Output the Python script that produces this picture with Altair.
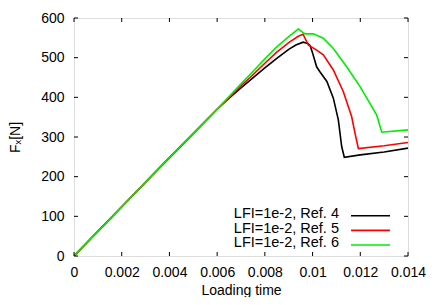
import altair as alt
import pandas as pd

series_names = ["LFI=1e-2, Ref. 4", "LFI=1e-2, Ref. 5", "LFI=1e-2, Ref. 6"]
colors = ["#000000", "#ff0000", "#00ee00"]

black_t = [0, 0.002, 0.004, 0.006, 0.0065, 0.007, 0.0075, 0.008, 0.0085, 0.009, 0.0093, 0.0096, 0.0098,
           0.0099, 0.01, 0.01017, 0.0103, 0.0106, 0.01087, 0.01108, 0.01122, 0.01133, 0.012, 0.013, 0.014]
black_f = [0, 124, 248, 370, 398, 424, 449, 474, 498, 521, 532, 539, 536,
           530, 512, 477, 465, 440, 398, 343, 276, 249, 255, 262, 272]

red_t = [0, 0.002, 0.004, 0.006, 0.0065, 0.007, 0.0075, 0.008, 0.0085, 0.009, 0.0094, 0.0096, 0.00982,
         0.01017, 0.01045, 0.01087, 0.01129, 0.01164, 0.01178, 0.01192, 0.013, 0.014]
red_f = [0, 124, 248, 370, 400, 429, 457, 486, 514, 538, 554, 559, 532,
         519, 507, 469, 414, 351, 309, 271, 278, 286]

green_t = [0, 0.002, 0.004, 0.006, 0.0065, 0.007, 0.0075, 0.008, 0.0085, 0.009, 0.0094, 0.00968, 0.01003,
           0.01045, 0.01087, 0.01143, 0.01199, 0.01269, 0.0129, 0.014]
green_f = [0, 124, 248, 370, 402, 434, 465, 497, 527, 553, 572, 560, 560,
           549, 523, 477, 427, 355, 312, 318]

x_ticks = [0, 0.002, 0.004, 0.006, 0.008, 0.01, 0.012, 0.014]
y_ticks = [0, 100, 200, 300, 400, 500, 600]

rows = []
for name, ts, fs in [(series_names[0], black_t, black_f),
                     (series_names[1], red_t, red_f),
                     (series_names[2], green_t, green_f)]:
    for i, (t, f) in enumerate(zip(ts, fs)):
        rows.append({"series": name, "t": t, "F": f, "order": i})
df = pd.DataFrame(rows)

W, H = 334, 238
FONT = "Liberation Sans"
FS = 14

xscale = alt.Scale(domain=[0, 0.014], nice=False, zero=False)
yscale = alt.Scale(domain=[0, 600], nice=False)

xaxis = alt.Axis(title="Loading time", values=x_ticks, format="~g", domain=False, ticks=False,
                 grid=False, labelPadding=9, labelFontSize=FS,
                 titleFontSize=FS, labelFont=FONT, titleFont=FONT, labelColor="#000",
                 titleColor="#000", titleFontWeight="normal", labelOverlap=False,
                 labelFlush=False, titleBaseline="alphabetic", titleY=38)
yaxis = alt.Axis(title="Fₓ[N]", values=y_ticks, domain=False, ticks=False, grid=False,
                 labelPadding=10, labelFontSize=FS, titleFontSize=FS,
                 labelFont=FONT, titleFont=FONT, labelColor="#000", titleColor="#000",
                 titleFontWeight="normal", labelOverlap=False, labelFlush=False,
                 titleBaseline="alphabetic", titleX=-55)

lines = alt.Chart(df).mark_line(strokeWidth=1.6, clip=True).encode(
    x=alt.X("t:Q", scale=xscale, axis=xaxis),
    y=alt.Y("F:Q", scale=yscale, axis=yaxis),
    color=alt.Color("series:N", scale=alt.Scale(domain=series_names, range=colors), legend=None),
    order="order:Q",
)

xt = pd.DataFrame({"t": x_ticks})
yt = pd.DataFrame({"F": y_ticks})
tick_color = "#000"
xb = alt.Chart(xt).mark_rule(color=tick_color, strokeWidth=1).encode(
    x=alt.X("t:Q", scale=xscale, axis=xaxis), y=alt.value(H), y2=alt.value(H - 4))
xtop = alt.Chart(xt).mark_rule(color=tick_color, strokeWidth=1).encode(
    x=alt.X("t:Q", scale=xscale, axis=xaxis), y=alt.value(0), y2=alt.value(4))
yl = alt.Chart(yt).mark_rule(color=tick_color, strokeWidth=1).encode(
    y=alt.Y("F:Q", scale=yscale, axis=yaxis), x=alt.value(0), x2=alt.value(4))
yr = alt.Chart(yt).mark_rule(color=tick_color, strokeWidth=1).encode(
    y=alt.Y("F:Q", scale=yscale, axis=yaxis), x=alt.value(W), x2=alt.value(W - 4))

legend_layers = []
for i, (name, col) in enumerate(zip(series_names, colors)):
    ld = pd.DataFrame({"series": [name]})
    legend_layers.append(
        alt.Chart(ld).mark_text(align="right", baseline="alphabetic", fontSize=14.5, font=FONT,
                                color="#000").encode(
            text="series:N", x=alt.value(265), y=alt.value(200.3 + i * 14.2)))
    legend_layers.append(
        alt.Chart(ld).mark_rule(color=col, strokeWidth=1.6).encode(
            x=alt.value(277), x2=alt.value(316), y=alt.value(197.8 + i * 14.6)))

chart = alt.layer(lines, xb, xtop, yl, yr, *legend_layers).properties(
    width=W, height=H,
    autosize=alt.AutoSizeParams(type="none"),
    padding={"left": 66, "top": 10, "right": 20, "bottom": 41},
).configure_view(stroke="#000", strokeWidth=1).configure(background="white")

chart.save("out.html", embed_options={"renderer": "svg", "actions": False})
